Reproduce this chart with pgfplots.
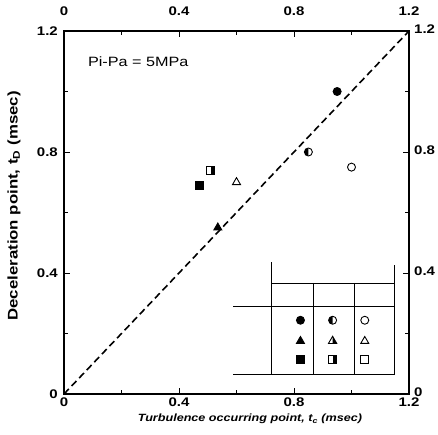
\documentclass[border=0pt]{standalone}
\usepackage{fontspec}
\setmainfont{Liberation Sans}[FakeStretch=1.2]
\usepackage{pgfplots}
\pgfplotsset{compat=1.18}
\usetikzlibrary{plotmarks}

% half-filled marks (left half circle, right half square, right half triangle)
\pgfdeclareplotmark{hcircL}{%
  \pgfpathmoveto{\pgfqpoint{0pt}{\pgfplotmarksize}}%
  \pgfpatharc{90}{270}{\pgfplotmarksize}%
  \pgfpathclose
  \pgfusepathqfill
  \pgfpathcircle{\pgfpointorigin}{\pgfplotmarksize}%
  \pgfusepathqstroke
}
\pgfdeclareplotmark{hsqR}{%
  \pgfpathrectanglecorners{\pgfqpoint{0pt}{-\pgfplotmarksize}}{\pgfqpoint{\pgfplotmarksize}{\pgfplotmarksize}}%
  \pgfusepathqfill
  \pgfpathrectanglecorners{\pgfqpoint{-\pgfplotmarksize}{-\pgfplotmarksize}}{\pgfqpoint{\pgfplotmarksize}{\pgfplotmarksize}}%
  \pgfusepathqstroke
}
\pgfdeclareplotmark{htriR}{%
  \pgfpathmoveto{\pgfqpoint{0pt}{1.2\pgfplotmarksize}}%
  \pgfpathlineto{\pgfqpoint{1.04\pgfplotmarksize}{-0.6\pgfplotmarksize}}%
  \pgfpathlineto{\pgfqpoint{0pt}{-0.6\pgfplotmarksize}}%
  \pgfpathclose
  \pgfusepathqfill
  \pgfpathmoveto{\pgfqpoint{0pt}{1.2\pgfplotmarksize}}%
  \pgfpathlineto{\pgfqpoint{1.04\pgfplotmarksize}{-0.6\pgfplotmarksize}}%
  \pgfpathlineto{\pgfqpoint{-1.04\pgfplotmarksize}{-0.6\pgfplotmarksize}}%
  \pgfpathclose
  \pgfusepathqstroke
}

\pgfplotsset{
  mk/.style={only marks, black, mark size=4pt,
    mark options={solid, line width=0.9pt, fill=black}},
  frame/.style={
    scale only axis, width=345pt, height=363pt,
    xmin=0, xmax=1.2, ymin=0, ymax=1.2,
    axis line style={line width=1.1pt},
    tick align=inside,
    xtick={0,0.4,0.8,1.2}, ytick={0,0.4,0.8,1.2},
    minor xtick={0.2,0.6,1.0}, minor ytick={0.2,0.6,1.0},
    xticklabels={0,0.4,0.8,1.2}, yticklabels={0,0.4,0.8,1.2},
    major tick length=6pt, minor tick length=4pt,
    every tick/.style={black, line width=0.9pt},
    ticklabel style={font=\fontsize{12.5}{12.5}\selectfont\bfseries},
  },
}

\begin{document}
\begin{tikzpicture}
\begin{axis}[
    frame,
    name=main,
    clip=false,
    xticklabel style={inner sep=0pt, yshift=-4pt},
    yticklabel style={inner sep=0pt, xshift=-6pt},
    xlabel={Turbulence occurring point, t\textsubscript{c} (msec)},
    xlabel style={font=\fontsize{10.5}{12}\selectfont\bfseries\itshape,
      at={(axis description cs:0.539,-0.068)}, anchor=center},
    ylabel={Deceleration point, t\textsubscript{D} (msec)},
    ylabel style={font=\fontsize{14}{16}\selectfont\bfseries,
      at={(axis description cs:-0.145,0.518)}, anchor=center},
    legend columns=3,
    legend style={draw=none, fill=none, at={(axis cs:0.936,0.179)}, anchor=center,
      row sep=12pt, nodes={inner sep=0pt},
      /tikz/every even column/.append style={column sep=23pt}},
]

% y = x reference line
\addplot[black, line width=1.6pt, dash pattern=on 7pt off 4pt, forget plot]
  coordinates {(0,0) (1.2,1.2)};

% measured points
\addplot[mk, mark=*, forget plot] coordinates {(0.95,1.00)};
\addplot[mk, mark=hcircL, forget plot] coordinates {(0.85,0.80)};
\addplot[mk, mark=o, forget plot] coordinates {(1.00,0.75)};
\addplot[mk, mark=triangle*, mark size=4.6pt, forget plot] coordinates {(0.535,0.55)};
\addplot[mk, mark=triangle, mark size=4.6pt, forget plot] coordinates {(0.60,0.70)};
\addplot[mk, mark=square*, forget plot] coordinates {(0.47,0.69)};
\addplot[mk, mark=hsqR, forget plot] coordinates {(0.51,0.74)};

% symbol table
\addlegendimage{mk, mark=*}\addlegendentry{}
\addlegendimage{mk, mark=hcircL}\addlegendentry{}
\addlegendimage{mk, mark=o}\addlegendentry{}
\addlegendimage{mk, mark=triangle*, mark size=4.6pt}\addlegendentry{}
\addlegendimage{mk, mark=htriR}\addlegendentry{}
\addlegendimage{mk, mark=triangle, mark size=4.6pt}\addlegendentry{}
\addlegendimage{mk, mark=square*}\addlegendentry{}
\addlegendimage{mk, mark=hsqR}\addlegendentry{}
\addlegendimage{mk, mark=square}\addlegendentry{}

\draw[line width=0.9pt] (axis cs:0.723,0.436) -- (axis cs:0.723,0.066);
\draw[line width=0.9pt] (axis cs:0.723,0.367) -- (axis cs:1.151,0.367);
\draw[line width=0.9pt] (axis cs:0.588,0.291) -- (axis cs:1.151,0.291);
\draw[line width=0.9pt] (axis cs:0.588,0.066) -- (axis cs:1.151,0.066);
\draw[line width=0.9pt] (axis cs:0.866,0.367) -- (axis cs:0.866,0.066);
\draw[line width=0.9pt] (axis cs:1.009,0.367) -- (axis cs:1.009,0.066);
\draw[line width=0.9pt] (axis cs:1.151,0.426) -- (axis cs:1.151,0.066);

\node[anchor=west, inner sep=0pt, font=\fontsize{13.5}{15}\selectfont]
  at (axis cs:0.083,1.10) {Pi-Pa = 5MPa};
\end{axis}

% top and right tick labels
\begin{axis}[
    frame,
    xticklabel pos=upper, yticklabel pos=right,
    xticklabel style={inner sep=0pt, yshift=15pt},
    yticklabel style={inner sep=0pt, xshift=5pt, yshift=2pt},
]
\end{axis}

\path ([shift={(-64pt,-40pt)}]main.south west) rectangle ([shift={(29pt,31pt)}]main.north east);
\end{tikzpicture}
\end{document}
